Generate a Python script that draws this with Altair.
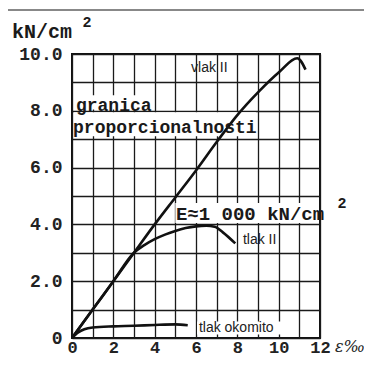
import altair as alt
import pandas as pd

# ---- data ----
vlak_x = [0, 1, 2, 3, 4, 5, 6, 7, 8, 9, 10, 10.9, 11.3]
vlak_y = [0, 1.0, 2.0, 3.0, 4.0, 4.95, 5.9, 6.9, 7.85, 8.65, 9.35, 9.85, 9.45]

tlak_x = [0, 1, 2, 3, 3.5, 4, 4.5, 5, 5.5, 6, 6.5, 6.9, 7.3, 7.9]
tlak_y = [0, 1.0, 2.0, 3.0, 3.27, 3.48, 3.64, 3.77, 3.87, 3.93, 3.95, 3.92, 3.72, 3.33]

okom_x = [0, 0.3, 0.6, 1, 2, 3, 4, 5, 5.6]
okom_y = [0, 0.2, 0.31, 0.37, 0.41, 0.43, 0.46, 0.48, 0.45]

x_ticks = list(range(0, 13))
y_ticks = list(range(0, 11))

# white boxes behind the in-plot labels
bg_x0 = [0.1, 0.1, 5.0, 6.05]
bg_x1 = [3.95, 8.9, 11.95, 10.85]
bg_y0 = [8.05, 7.1, 4.05, 0.12]
bg_y1 = [8.55, 7.95, 4.75, 0.58]

mono_texts = ["granica", "proporcionalnosti", "E\u22481 000 kN/cm", "kN/cm"]
mono_x = [0.19, 0.05, 5.03, -2.9]
mono_y = [8.18, 7.4, 4.35, 10.77]
mono_size = [18, 18, 19, 20]

sup_texts = ["2", "2"]
sup_x = [13.06, 0.72]
sup_y = [4.76, 11.12]

sans_texts = ["vlak II", "tlak II", "tlak okomito"]
sans_x = [5.76, 8.27, 6.14]
sans_y = [9.49, 3.46, 0.34]

# ---- build tables ----
rows = []
for name, xs_, ys_ in [("vlak", vlak_x, vlak_y), ("tlak", tlak_x, tlak_y), ("okomito", okom_x, okom_y)]:
    for i, (a, b) in enumerate(zip(xs_, ys_)):
        rows.append({"series": name, "i": i, "x": a, "y": b})
lines_df = pd.DataFrame(rows)
bg_df = pd.DataFrame({"x": bg_x0, "x2": bg_x1, "y": bg_y0, "y2": bg_y1})
mono_df = pd.DataFrame({"x": mono_x, "y": mono_y, "t": mono_texts, "s": mono_size})
sup_df = pd.DataFrame({"x": sup_x, "y": sup_y, "t": sup_texts})
sans_df = pd.DataFrame({"x": sans_x, "y": sans_y, "t": sans_texts})
eps_df = pd.DataFrame({"x": [12.72], "y": [-0.33], "t": ["\u03b5\u2030"]})

xs = alt.Scale(domain=[0, 12], nice=False, zero=False)
ys = alt.Scale(domain=[0, 10], nice=False, zero=False)

x_axis = alt.Axis(
    values=x_ticks, format="d",
    labelExpr="datum.value % 2 == 0 ? datum.label : ''",
    grid=True, gridColor="#1a1a1a", gridWidth=1.3, gridOpacity=1,
    domain=False, ticks=False, tickSize=0,
    labelFont="Liberation Mono", labelFontSize=17, labelFontWeight="bold",
    labelColor="#222", labelPadding=1, labelFlush=False, labelOverlap=False,
    title=None,
)
y_axis = alt.Axis(
    values=y_ticks,
    labelExpr="datum.value == 0 ? '0\u00a0\u00a0' : (datum.value % 2 == 0 ? format(datum.value, '.1f') : '')",
    grid=True, gridColor="#1a1a1a", gridWidth=1.3, gridOpacity=1,
    domain=False, ticks=False, tickSize=0,
    labelFont="Liberation Mono", labelFontSize=18, labelFontWeight="bold",
    labelColor="#222", labelPadding=10, labelFlush=False, labelOverlap=False,
    title=None,
)

X = alt.X("x:Q", scale=xs, axis=x_axis)
Y = alt.Y("y:Q", scale=ys, axis=y_axis)

bg = alt.Chart(bg_df).mark_rect(color="white").encode(x=X, x2="x2:Q", y=Y, y2="y2:Q")

lines = alt.Chart(lines_df).mark_line(color="#111", strokeWidth=2.6, interpolate="monotone").encode(
    x=X, y=Y, detail="series:N", order="i:Q"
)

mono = alt.Chart(mono_df).mark_text(
    font="Liberation Mono", fontWeight="bold", align="left", baseline="middle", color="#1a1a1a"
).encode(x=X, y=Y, text="t:N", size=alt.Size("s:Q", scale=None, legend=None))

sup = alt.Chart(sup_df).mark_text(
    font="Liberation Mono", fontWeight="bold", fontSize=15, align="center", baseline="middle", color="#1a1a1a"
).encode(x=X, y=Y, text="t:N")

sans = alt.Chart(sans_df).mark_text(
    font="Liberation Sans", fontSize=14, align="left", baseline="middle", color="#222"
).encode(x=X, y=Y, text="t:N")

eps = alt.Chart(eps_df).mark_text(
    font="DejaVu Serif", fontStyle="italic", fontSize=16, align="left", baseline="middle", color="#222"
).encode(x=X, y=Y, text="t:N")

top_rule = alt.Chart(pd.DataFrame({"a": [0]})).mark_rule(color="#888", strokeWidth=2).encode(
    x=alt.value(-64), x2=alt.value(292), y=alt.value(-44)
)

chart = alt.layer(bg, lines, mono, sup, sans, eps, top_rule).properties(
    width=248, height=284,
    autosize=alt.AutoSizeParams(type="none"),
    padding={"left": 64, "top": 46, "right": 44, "bottom": 20},
).configure_view(stroke="#111", strokeWidth=2)

chart.save("out.html", embed_options={"renderer": "svg", "actions": False})
